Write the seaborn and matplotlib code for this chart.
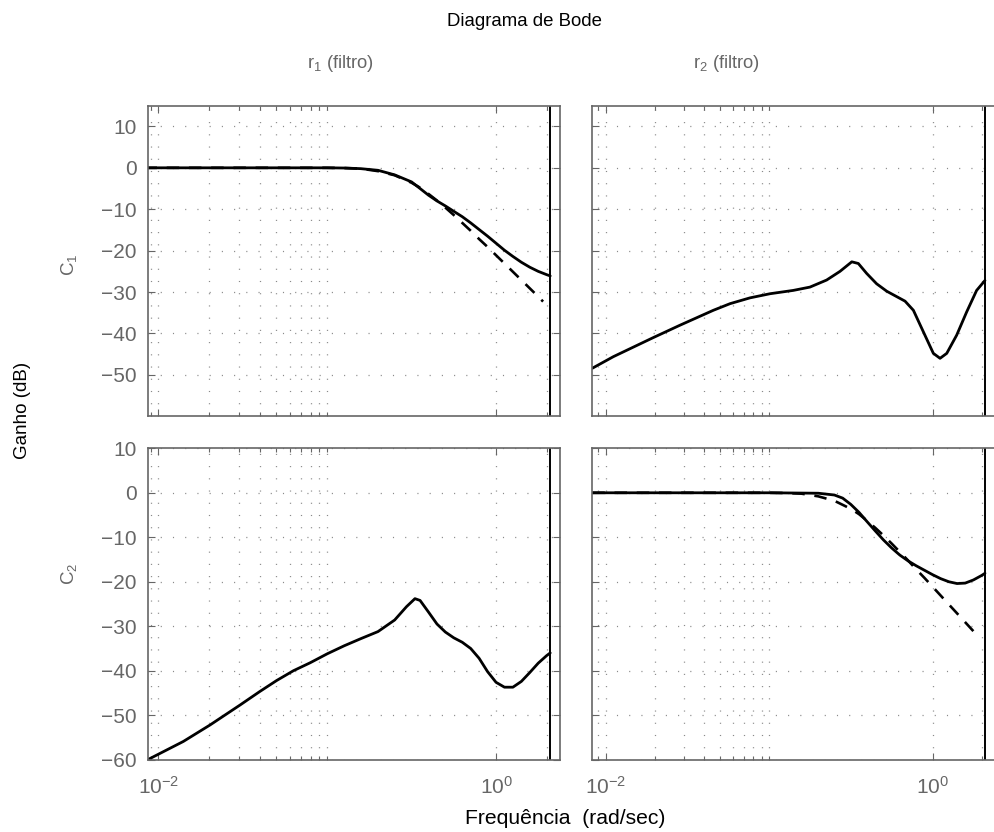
import matplotlib
matplotlib.use("Agg")
import matplotlib.pyplot as plt
from matplotlib.ticker import FixedLocator, FixedFormatter, NullFormatter
import pandas as pd
import seaborn as sns

# ---- data: magnitude (dB) vs frequency (rad/s) -------------------------
# r1 -> C1 (closed loop) and reference filter
w_c1r1 = [0.00865, 0.01, 0.0251, 0.0631, 0.1, 0.126, 0.158, 0.2, 0.251, 0.316,
          0.355, 0.398, 0.447, 0.501, 0.562, 0.631, 0.708, 0.794, 0.891, 1.0,
          1.122, 1.259, 1.413, 1.585, 1.778, 1.995, 2.094]
db_c1r1 = [0.0, 0.0, 0.0, 0.0, 0.0, -0.05, -0.2, -0.6, -1.7, -3.4,
           -5.0, -6.6, -8.0, -9.2, -10.5, -11.8, -13.3, -14.9, -16.5, -18.2,
           -19.9, -21.4, -22.8, -24.0, -25.0, -25.8, -26.1]

w_filtro = [0.00828, 0.01, 0.0251, 0.0631, 0.1, 0.126, 0.158, 0.2, 0.251, 0.316,
            0.355, 0.398, 0.447, 0.501, 0.562, 0.631, 0.708, 0.794, 0.891, 1.0,
            1.122, 1.259, 1.413, 1.585, 1.778, 1.900]
db_filtro = [0.0, 0.0, 0.0, 0.0, 0.0, -0.05, -0.2, -0.8, -1.8, -3.6,
             -4.8, -6.3, -7.9, -9.6, -11.4, -13.3, -15.2, -17.2, -19.1, -21.1,
             -23.1, -25.1, -27.1, -29.1, -31.1, -32.3]

# r2 -> C1
w_c1r2 = [0.00828, 0.01114, 0.01954, 0.0285, 0.0456, 0.0577, 0.0764, 0.1014,
          0.1406, 0.1778, 0.2249, 0.2716, 0.3206, 0.3516, 0.3954, 0.455, 0.5248,
          0.6792, 0.7638, 0.879, 1.012, 1.112, 1.222, 1.406, 1.618, 1.862, 2.094]
db_c1r2 = [-48.4, -45.6, -41.0, -38.0, -34.4, -32.8, -31.4, -30.4,
           -29.6, -28.8, -27.1, -25.0, -22.7, -23.1, -25.5, -28.0, -29.8,
           -32.2, -34.4, -39.6, -44.8, -46.0, -44.8, -40.4, -34.8, -29.6, -27.2]

# r1 -> C2
w_c2r1 = [0.00865, 0.01406, 0.02023, 0.0305, 0.0398, 0.0502, 0.0631, 0.0794, 0.1,
          0.126, 0.158, 0.2, 0.251, 0.295, 0.331, 0.355, 0.398, 0.447, 0.501,
          0.562, 0.631, 0.708, 0.794, 0.891, 1.0, 1.122, 1.259, 1.413, 1.585,
          1.778, 1.995, 2.094]
db_c2r1 = [-60.0, -55.9, -52.2, -47.7, -44.7, -42.2, -40.0, -38.2, -36.2,
           -34.4, -32.8, -31.2, -28.6, -25.6, -23.8, -24.2, -26.8, -29.5, -31.3,
           -32.6, -33.6, -35.0, -37.2, -40.2, -42.6, -43.7, -43.7, -42.4, -40.4,
           -38.3, -36.6, -36.0]

# r2 -> C2
w_c2r2 = [0.00828, 0.01, 0.1, 0.2, 0.251, 0.282, 0.316, 0.355, 0.398, 0.447,
          0.501, 0.562, 0.631, 0.708, 0.794, 0.891, 1.0, 1.122, 1.259, 1.413,
          1.585, 1.778, 1.995, 2.094]
db_c2r2 = [0.0, 0.0, 0.0, -0.1, -0.5, -1.2, -2.6, -4.4, -6.5, -8.6,
           -10.6, -12.4, -14.0, -15.3, -16.4, -17.4, -18.4, -19.3, -20.0, -20.4,
           -20.3, -19.6, -18.6, -18.1]

NYQUIST = 2.094          # pi / Ts, Ts = 1.5 s
x_grid = [0.009, 0.02, 0.03, 0.04, 0.05, 0.06, 0.07, 0.08, 0.09, 0.1, 2.0]
x_major = [0.01, 1.0]
x_major_labels = [r"$10^{-2}$", r"$10^{0}$"]
yticks_top = [10, 0, -10, -20, -30, -40, -50]
yticks_bot = [10, 0, -10, -20, -30, -40, -50, -60]
col_titles = [r"r$_1$ (filtro)", r"r$_2$ (filtro)"]
row_titles = [r"C$_1$", r"C$_2$"]

# ---- style ---------------------------------------------------------------
sns.set_style("ticks")
plt.rcParams["font.family"] = ["Liberation Sans", "DejaVu Sans"]
plt.rcParams["mathtext.fontset"] = "custom"
plt.rcParams["mathtext.rm"] = "Liberation Sans"
plt.rcParams["mathtext.it"] = "Liberation Sans"
plt.rcParams["mathtext.bf"] = "Liberation Sans:bold"
plt.rcParams["lines.scale_dashes"] = False

GRAY = "#666666"
W, H = 995, 832
fig = plt.figure(figsize=(W / 100, H / 100), dpi=100)


def box(x0, y0, x1, y1):
    return [x0 / W, 1 - y1 / H, (x1 - x0) / W, (y1 - y0) / H]


# right-hand column runs off the right edge of the canvas
ax_tl = fig.add_axes(box(147.7, 105.7, 560.0, 416.3))
ax_tr = fig.add_axes(box(592.3, 105.7, 1003.0, 416.3))
ax_bl = fig.add_axes(box(147.7, 448.3, 560.0, 759.7))
ax_br = fig.add_axes(box(592.3, 448.3, 1003.0, 759.7))

panels = [
    (ax_tl, w_c1r1, db_c1r1, True, (0.00865, 2.393), (-60, 15), yticks_top, False),
    (ax_tr, w_c1r2, db_c1r2, False, (0.00828, 2.70), (-60, 15), [], False),
    (ax_bl, w_c2r1, db_c2r1, False, (0.00865, 2.393), (-60, 10), yticks_bot, True),
    (ax_br, w_c2r2, db_c2r2, True, (0.00828, 2.70), (-60, 10), [], True),
]

for ax, w, db, with_filter, xlim, ylim, yt, xlab in panels:
    ax.set_xscale("log")
    df = pd.DataFrame({"w": w, "db": db})
    sns.lineplot(data=df, x="w", y="db", ax=ax, color="black", lw=2.0,
                 sort=False, estimator=None)
    if with_filter:
        dff = pd.DataFrame({"w": w_filtro, "db": db_filtro})
        sns.lineplot(data=dff, x="w", y="db", ax=ax, color="black", lw=1.9,
                     sort=False, estimator=None, linestyle=(0, (9, 7)))
    ax.axvline(NYQUIST, color="black", lw=1.4)

    ax.set_xlim(*xlim)
    ax.set_ylim(*ylim)
    ax.xaxis.set_major_locator(FixedLocator(x_major))
    ax.xaxis.set_minor_locator(FixedLocator(x_grid))
    ax.xaxis.set_minor_formatter(NullFormatter())
    if xlab:
        ax.xaxis.set_major_formatter(FixedFormatter(x_major_labels))
    else:
        ax.xaxis.set_major_formatter(NullFormatter())
    ax.yaxis.set_major_locator(FixedLocator(yticks_top if ylim[1] == 15 else yticks_bot))
    if not yt:
        ax.set_yticklabels([])

    ax.grid(which="both", axis="x", color="#8a8a8a", lw=0.9, linestyle=(0, (0.8, 8.0)))
    ax.grid(which="major", axis="y", color="#8a8a8a", lw=0.9, linestyle=(0, (0.8, 8.0)))
    ax.tick_params(which="both", direction="in", top=True, right=True,
                   color=GRAY, labelcolor=GRAY, labelsize=15, width=0.8)
    ax.tick_params(which="major", length=5, pad=8)
    ax.tick_params(which="minor", length=3)
    ax.tick_params(axis="x", pad=12)
    for s in ax.spines.values():
        s.set_color(GRAY)
        s.set_linewidth(1.2)
    ax.set_xlabel("")
    ax.set_ylabel("")

# ---- labels --------------------------------------------------------------
fig.text(524.5 / W, 1 - 22 / H, "Diagrama de Bode", ha="center", va="center",
         fontsize=13.4, color="black")
fig.text(340 / W, 1 - 68 / H, col_titles[0], ha="center", va="baseline",
         fontsize=13.2, color=GRAY)
fig.text(726.7 / W, 1 - 68 / H, col_titles[1], ha="center", va="baseline",
         fontsize=13.2, color=GRAY)
fig.text(23 / W, 1 - 410 / H, "Ganho (dB)", ha="center", va="center",
         rotation=90, fontsize=13.5, color="black")
fig.text(69 / W, 1 - 265 / H, row_titles[0], ha="center", va="center",
         rotation=90, fontsize=13.5, color=GRAY)
fig.text(69 / W, 1 - 574 / H, row_titles[1], ha="center", va="center",
         rotation=90, fontsize=13.5, color=GRAY)
fig.text(565 / W, 1 - 819 / H, "Frequência  (rad/sec)", ha="center", va="center",
         fontsize=15.2, color="black")

fig.savefig("out.png", dpi=100, facecolor="white")
